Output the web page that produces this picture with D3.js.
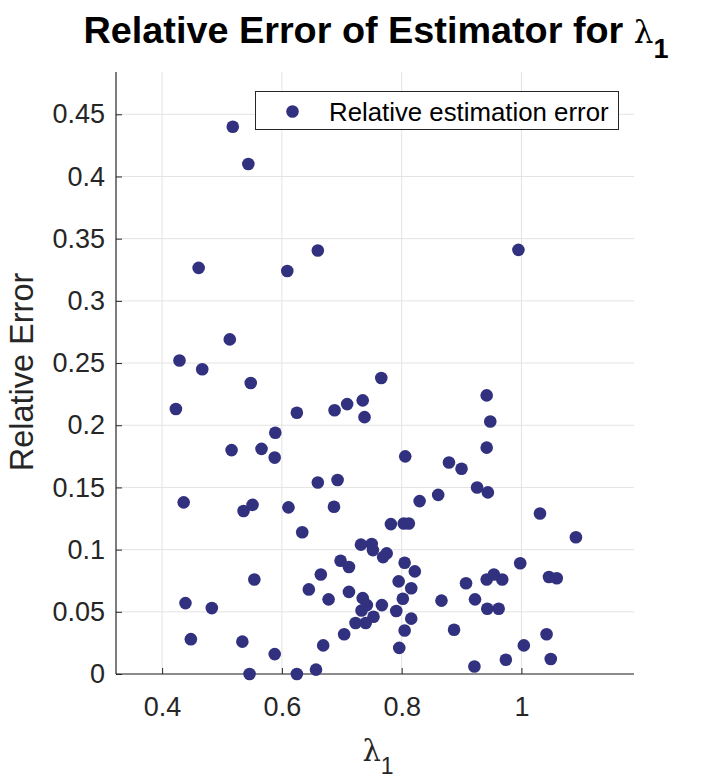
<!DOCTYPE html>
<html>
<head>
<meta charset="utf-8">
<script src="https://cdn.jsdelivr.net/npm/d3@7"></script>
<style>
  body { margin: 0; background: #fff; }
  svg { display: block; font-family: "Liberation Sans", Arial, Helvetica, sans-serif; }
</style>
</head>
<body>
<div id="chart"></div>
<script>
let w = 703;
let h = 781;

// lambda_1 values (x) and relative errors (y)
let lambdaVals = [
  0.518, 0.544, 0.461, 0.609, 0.660, 0.513, 0.429, 0.467, 0.995, 0.766,
  0.548, 0.423, 0.625, 0.688, 0.709, 0.735, 0.738, 0.589, 0.516, 0.566,
  0.588, 0.660, 0.693, 0.436, 0.536, 0.551, 0.611, 0.687, 0.634, 0.732,
  0.750, 0.752, 0.698, 0.712, 0.665, 0.554, 0.645, 0.678, 0.712, 0.735,
  0.742, 0.733, 0.753, 0.723, 0.740, 0.439, 0.483, 0.448, 0.534, 0.704,
  0.669, 0.588, 0.657, 0.546, 0.625, 0.942, 0.948, 0.942, 0.806, 0.879,
  0.900, 0.926, 0.944, 0.861, 0.830, 1.031, 1.091, 0.782, 0.8035, 0.812,
  0.769, 0.775, 0.805, 0.822, 0.795, 0.816, 0.802, 0.767, 0.791, 0.816,
  0.805, 0.796, 0.8665, 0.8875, 0.9075, 0.9225, 0.942, 0.954, 0.968, 0.943,
  0.962, 0.998, 1.046, 1.059, 1.042, 1.004, 0.974, 0.9215, 1.049
];
let errVals = [
  0.440, 0.410, 0.3265, 0.324, 0.3405, 0.269, 0.252, 0.245, 0.341, 0.238,
  0.234, 0.213, 0.210, 0.212, 0.217, 0.220, 0.2065, 0.194, 0.180, 0.181,
  0.174, 0.154, 0.156, 0.138, 0.131, 0.136, 0.134, 0.1345, 0.114, 0.104,
  0.1045, 0.0996, 0.091, 0.086, 0.080, 0.076, 0.068, 0.060, 0.066, 0.061,
  0.0554, 0.051, 0.046, 0.041, 0.041, 0.057, 0.053, 0.028, 0.026, 0.032,
  0.023, 0.016, 0.0035, 0.0, 0.0, 0.224, 0.203, 0.182, 0.175, 0.170,
  0.165, 0.150, 0.146, 0.144, 0.139, 0.129, 0.110, 0.1205, 0.121, 0.121,
  0.094, 0.097, 0.0895, 0.0825, 0.0745, 0.069, 0.0605, 0.0554, 0.0506, 0.0445,
  0.035, 0.021, 0.059, 0.0356, 0.073, 0.060, 0.076, 0.080, 0.076, 0.0525,
  0.0525, 0.089, 0.078, 0.077, 0.032, 0.023, 0.0115, 0.006, 0.012
];

let xTicks = [0.4, 0.6, 0.8, 1.0];
let xTickLabels = ["0.4", "0.6", "0.8", "1"];
let yTicks = [0, 0.05, 0.1, 0.15, 0.2, 0.25, 0.3, 0.35, 0.4, 0.45];
let yTickLabels = ["0", "0.05", "0.1", "0.15", "0.2", "0.25", "0.3", "0.35", "0.4", "0.45"];

let data = lambdaVals.map(function(d, i){
  return { x: d, y: errVals[i] };
});

let pLeft = 116, pRight = 634, pTop = 72, pBottom = 674;
let dotColor = "#31317f";
let axisColor = "#262626";

let viz = d3.select("#chart")
  .append("svg")
  .attr("width", w)
  .attr("height", h)
;

let xScale = d3.scaleLinear().domain([0.323, 1.188]).range([pLeft, pRight]);
let yScale = d3.scaleLinear().domain([0, 0.484]).range([pBottom, pTop]);

// grid
viz.append("g").selectAll("line").data(xTicks).enter()
  .append("line")
  .attr("x1", d => xScale(d)).attr("x2", d => xScale(d))
  .attr("y1", pTop).attr("y2", pBottom)
  .attr("stroke", "#e3e3e3").attr("stroke-width", 1)
;
viz.append("g").selectAll("line").data(yTicks).enter()
  .append("line")
  .attr("x1", pLeft).attr("x2", pRight)
  .attr("y1", d => yScale(d)).attr("y2", d => yScale(d))
  .attr("stroke", "#e3e3e3").attr("stroke-width", 1)
;

// axes (ticks point inwards)
let xAxis = d3.axisBottom(xScale)
  .tickValues(xTicks)
  .tickFormat((d, i) => xTickLabels[i])
  .tickSizeInner(-6).tickSizeOuter(0).tickPadding(23);
let yAxis = d3.axisLeft(yScale)
  .tickValues(yTicks)
  .tickFormat((d, i) => yTickLabels[i])
  .tickSizeInner(-6).tickSizeOuter(0).tickPadding(11);

let gx = viz.append("g").attr("transform", "translate(0," + pBottom + ")").call(xAxis);
let gy = viz.append("g").attr("transform", "translate(" + pLeft + ",0)").call(yAxis);

[gx, gy].forEach(function(g){
  g.select(".domain").attr("stroke", axisColor).attr("stroke-width", 1.2);
  g.selectAll(".tick line").attr("stroke", axisColor);
  g.selectAll(".tick text")
    .attr("fill", axisColor)
    .style("font-size", "27px")
    .style("font-family", "'Liberation Sans', Arial, sans-serif");
});
gx.select(".domain").attr("d", "M" + pLeft + ",0H" + pRight);
gy.select(".domain").attr("d", "M0," + pTop + "V" + pBottom);

// points
viz.selectAll(".datapoint").data(data).enter()
  .append("circle")
  .attr("class", "datapoint")
  .attr("cx", d => xScale(d.x))
  .attr("cy", d => yScale(d.y))
  .attr("r", 6.3)
  .attr("fill", dotColor)
;

// title
let title = viz.append("text")
  .attr("x", 376).attr("y", 43)
  .attr("text-anchor", "middle")
  .attr("fill", "#000")
  .style("font-size", "37.8px")
  .style("font-weight", "bold");
title.append("tspan").text("Relative Error of Estimator for ");
title.append("tspan").style("font-weight", "normal").style("font-family", "'DejaVu Serif', serif")
  .style("font-size", "31px").text("λ");
title.append("tspan").attr("dy", 15).style("font-size", "27px").text("1");

// x label
let xl = viz.append("text")
  .attr("x", 378).attr("y", 761)
  .attr("text-anchor", "middle")
  .attr("fill", axisColor)
  .style("font-size", "30px");
xl.append("tspan").style("font-family", "'DejaVu Serif', serif").style("font-size", "29px").text("λ");
xl.append("tspan").attr("dy", 13).style("font-size", "23px").text("1");

// y label
viz.append("text")
  .attr("transform", "translate(33,372) rotate(-90)")
  .attr("text-anchor", "middle")
  .attr("fill", axisColor)
  .style("font-size", "32.5px")
  .text("Relative Error");

// legend
let lg = viz.append("g");
lg.append("rect")
  .attr("x", 255.5).attr("y", 91.5)
  .attr("width", 363).attr("height", 38)
  .attr("fill", "#fff").attr("stroke", axisColor).attr("stroke-width", 1);
lg.append("circle")
  .attr("cx", 292.5).attr("cy", 111.5).attr("r", 6.3)
  .attr("fill", dotColor);
lg.append("text")
  .attr("x", 329).attr("y", 120.5)
  .attr("fill", "#000")
  .style("font-size", "25.8px")
  .text("Relative estimation error");
</script>
</body>
</html>
